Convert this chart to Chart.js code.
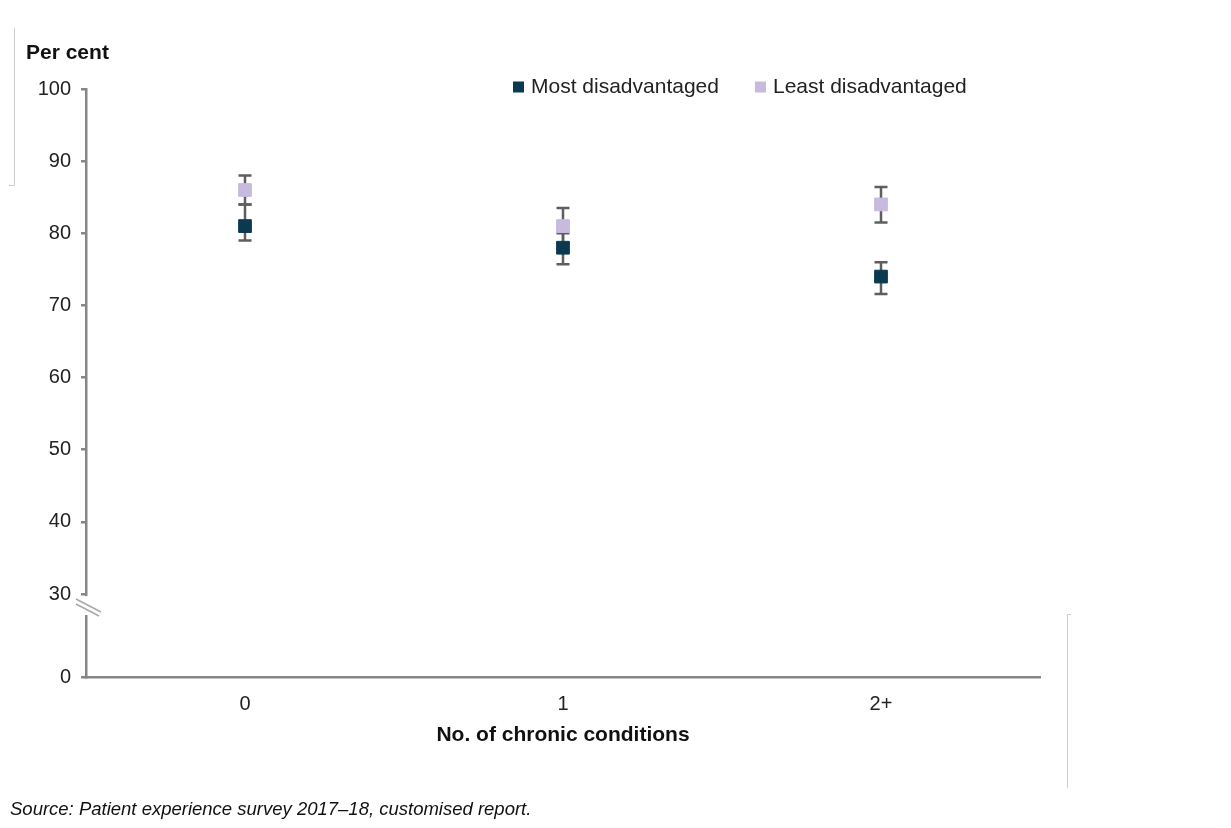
<!DOCTYPE html>
<html>
<head>
<meta charset="utf-8">
<title>Chronic conditions</title>
<script src="https://cdn.jsdelivr.net/npm/chart.js@4/dist/chart.umd.min.js"></script>
<style>
  html, body { margin: 0; padding: 0; background: #fff; }
  #wrap { width: 1231px; height: 828px; }
</style>
</head>
<body>
<div id="wrap"><canvas id="chart" width="1231" height="828"></canvas></div>
<script>
// Per cent of patients, by number of chronic conditions and disadvantage.
var categories = ["0", "1", "2+"];
var mostValues = [81, 78, 74];
var mostLower = [79, 75.7, 71.6];
var mostUpper = [84, 80, 76];
var leastValues = [86, 81, 84];
var leastLower = [84, 78.5, 81.5];
var leastUpper = [88, 83.5, 86.4];
var yTickValues = [0, 30, 40, 50, 60, 70, 80, 90, 100];

// The axis is broken between 0 and 30: 0 sits a short way below 30.
var BREAK_MIN = 18.5;

var DARK = "#0b3a50";
var LIGHT = "#c8b9df";
var AXIS = "#868686";
var FONT = "'Liberation Sans', Arial, sans-serif";

var errorBars = {
  id: "errorBars",
  beforeDatasetsDraw: function (chart) {
    var ctx = chart.ctx;
    var x = chart.scales.x, y = chart.scales.y;
    var sets = [[mostLower, mostUpper], [leastLower, leastUpper]];
    ctx.save();
    ctx.strokeStyle = "#5e5e5e";
    ctx.lineWidth = 2.5;
    sets.forEach(function (s) {
      categories.forEach(function (c, i) {
        var px = x.getPixelForValue(i);
        var lo = y.getPixelForValue(s[0][i]);
        var hi = y.getPixelForValue(s[1][i]);
        ctx.beginPath();
        ctx.moveTo(px, lo); ctx.lineTo(px, hi);
        ctx.moveTo(px - 6.5, lo); ctx.lineTo(px + 6.5, lo);
        ctx.moveTo(px - 6.5, hi); ctx.lineTo(px + 6.5, hi);
        ctx.stroke();
      });
    });
    ctx.restore();
  }
};

var decorations = {
  id: "decorations",
  afterDraw: function (chart) {
    var ctx = chart.ctx;
    var y = chart.scales.y;
    var left = chart.chartArea.left;
    var y30 = y.getPixelForValue(30);
    ctx.save();

    // axis break
    ctx.fillStyle = "#fff";
    ctx.fillRect(left - 4, y30 + 2, 8, 19);
    ctx.strokeStyle = "#a8a8a8";
    ctx.lineWidth = 1.5;
    ctx.beginPath();
    ctx.moveTo(left - 10, y30 + 5); ctx.lineTo(left + 15, y30 + 18);
    ctx.moveTo(left - 10, y30 + 10); ctx.lineTo(left + 13, y30 + 22);
    ctx.stroke();

    // faint frame lines
    ctx.strokeStyle = "#cccccc";
    ctx.lineWidth = 1;
    ctx.beginPath();
    ctx.moveTo(14.5, 28); ctx.lineTo(14.5, 185.5); ctx.lineTo(9, 185.5);
    ctx.moveTo(1071, 614.5); ctx.lineTo(1067.5, 614.5); ctx.lineTo(1067.5, 788);
    ctx.stroke();

    // y axis unit
    ctx.fillStyle = "#111";
    ctx.textBaseline = "alphabetic";
    ctx.textAlign = "left";
    ctx.font = "bold 21px " + FONT;
    ctx.fillText("Per cent", 26, 59);

    // legend
    ctx.font = "21px " + FONT;
    ctx.textBaseline = "middle";
    var lx = 513, ly = 87;
    chart.data.datasets.forEach(function (ds) {
      ctx.fillStyle = ds.backgroundColor;
      ctx.fillRect(lx, ly - 5.5, 11, 11);
      ctx.fillStyle = "#222";
      ctx.fillText(ds.label, lx + 18, ly);
      lx += 18 + ctx.measureText(ds.label).width + 36;
    });

    // source note
    ctx.font = "italic 18.5px " + FONT;
    ctx.textBaseline = "alphabetic";
    ctx.fillStyle = "#111";
    ctx.fillText("Source: Patient experience survey 2017\u201318, customised report.", 10, 815);
    ctx.restore();
  }
};

new Chart(document.getElementById("chart"), {
  type: "line",
  data: {
    labels: categories,
    datasets: [
      {
        label: "Most disadvantaged",
        data: mostValues,
        showLine: false,
        pointStyle: "rect",
        pointRadius: 9,
        pointHoverRadius: 9,
        backgroundColor: DARK,
        borderColor: DARK,
        pointBorderWidth: 1
      },
      {
        label: "Least disadvantaged",
        data: leastValues,
        showLine: false,
        pointStyle: "rect",
        pointRadius: 9,
        pointHoverRadius: 9,
        backgroundColor: LIGHT,
        borderColor: LIGHT,
        pointBorderWidth: 1
      }
    ]
  },
  options: {
    responsive: false,
    animation: false,
    layout: { padding: { top: 89, right: 191, bottom: 51, left: 0 } },
    plugins: {
      legend: { display: false },
      tooltip: { enabled: false }
    },
    scales: {
      x: {
        offset: true,
        grid: { display: false },
        border: { display: true, color: AXIS, width: 2.5 },
        ticks: { color: "#222", font: { family: FONT, size: 20 }, padding: 7 },
        title: {
          display: true,
          text: "No. of chronic conditions",
          color: "#111",
          font: { family: FONT, size: 21, weight: "bold" },
          padding: { top: 0, bottom: 29 }
        },
        afterFit: function (s) { s.height = 100; }
      },
      y: {
        min: BREAK_MIN,
        max: 100,
        grid: { drawOnChartArea: false, drawTicks: true, tickLength: 5, color: AXIS, lineWidth: 2.5 },
        border: { display: true, color: AXIS, width: 2.5 },
        ticks: {
          color: "#222",
          font: { family: FONT, size: 20 },
          padding: 10,
          callback: function (v) { return v === BREAK_MIN ? "0" : String(v); }
        },
        afterBuildTicks: function (s) {
          s.ticks = yTickValues.map(function (v) { return { value: v === 0 ? BREAK_MIN : v }; });
        },
        afterFit: function (s) { s.width = 86; }
      }
    }
  },
  plugins: [errorBars, decorations]
});
</script>
</body>
</html>
